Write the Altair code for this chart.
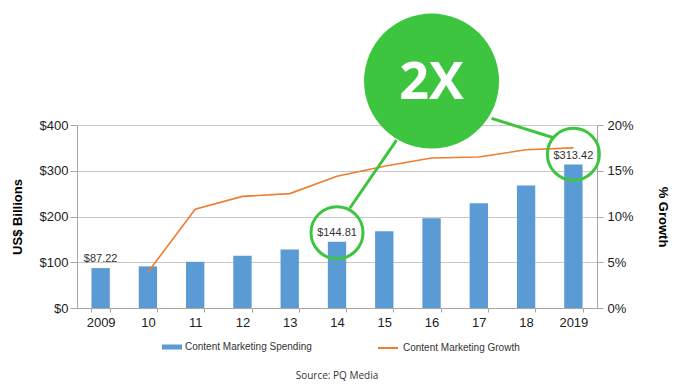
import altair as alt
import pandas as pd

# ---- data ----
years = ["2009", "10", "11", "12", "13", "14", "15", "16", "17", "18", "2019"]
spending = [87.22, 91, 101, 114, 128, 144.81, 168, 196, 229, 268, 313.42]
growth = [None, 3.9, 10.8, 12.2, 12.5, 14.4, 15.5, 16.4, 16.5, 17.3, 17.5]
value_labels = ["$87.22", "", "", "", "", "$144.81", "", "", "", "", "$313.42"]

# annotation anchors (category index units, US$ units)
big_circle_x = [7.5]
big_circle_y = [496]
big_text = ["2X"]
small_circle_x = [5.5, 10.5]
small_circle_y = [164.6, 336]
seg_x = [6.76, 8.77]
seg_y = [367, 414.6]
seg_x2 = [5.77, 10.08]
seg_y2 = [218, 372.2]

df = pd.DataFrame({"year": years, "spend": spending, "growth": growth, "label": value_labels})
big_df = pd.DataFrame({"x": big_circle_x, "y": big_circle_y, "t": big_text})
small_df = pd.DataFrame({"x": small_circle_x, "y": small_circle_y})
seg_df = pd.DataFrame({"x": seg_x, "y": seg_y, "x2": seg_x2, "y2": seg_y2})

BLUE = "#5B9BD5"
ORANGE = "#ED7D31"
GREEN = "#3DC53F"
AXISGRAY = "#A6A6A6"
FONT = "Liberation Sans"

band = alt.Scale(domain=years, paddingInner=0.612, paddingOuter=0.306)


def xband(axis=None):
    return alt.X("year:N", scale=band, sort=years, axis=axis, title=None)


ys = alt.Scale(domain=[0, 400], nice=False, zero=True)

bars = alt.Chart(df).transform_calculate(s="'Content Marketing Spending'").mark_bar(
    color=BLUE
).encode(
    x=xband(alt.Axis(
        labelAngle=0, tickBand="extent", tickSize=4, tickColor=AXISGRAY,
        domainColor=AXISGRAY, labelFont=FONT, labelFontSize=13, labelColor="#222",
        labelPadding=4, grid=False,
    )),
    y=alt.Y("spend:Q", scale=ys, title="US$ Billions", axis=alt.Axis(
        values=[0, 100, 200, 300, 400], labelExpr="'$' + datum.value",
        grid=True, gridColor="#C8C8C8", domainColor=AXISGRAY, tickColor=AXISGRAY,
        tickSize=7, labelPadding=2, labelFont=FONT, labelFontSize=13, labelColor="#222",
        titleFont=FONT, titleFontSize=13, titleFontWeight="bold", titleColor="#000",
        titlePadding=15,
    )),
    color=alt.Color("s:N", scale=alt.Scale(domain=["Content Marketing Spending"], range=[BLUE]),
                    legend=alt.Legend(
                        orient="none", legendX=85, legendY=212, title=None,
                        symbolType="M-1,-0.25H1V0.25H-1Z", symbolSize=400,
                        symbolStrokeWidth=0, symbolOpacity=1,
                        labelFont=FONT, labelFontSize=10, labelColor="#333",
                        labelOffset=3, padding=0)),
)

labels = alt.Chart(df).mark_text(
    baseline="middle", dy=-9, font=FONT, fontSize=11, color="#333"
).encode(
    x=xband(),
    y=alt.Y("spend:Q", scale=ys, axis=None),
    text="label:N",
)

line = alt.Chart(df).transform_filter("isValid(datum.growth)").transform_calculate(
    s="'Content Marketing Growth'"
).mark_line(strokeWidth=1.6).encode(
    x=xband(),
    y=alt.Y("growth:Q", scale=alt.Scale(domain=[0, 20], nice=False), title="% Growth",
            axis=alt.Axis(
                orient="right", values=[0, 5, 10, 15, 20], labelExpr="datum.value + '%'",
                grid=False, domainColor=AXISGRAY, tickColor=AXISGRAY, tickSize=6,
                labelPadding=4, labelFont=FONT, labelFontSize=13, labelColor="#222",
                titleFont=FONT, titleFontSize=13, titleFontWeight="bold", titleColor="#000",
                titlePadding=22,
            )),
    stroke=alt.Stroke("s:N", scale=alt.Scale(domain=["Content Marketing Growth"], range=[ORANGE]),
                      legend=alt.Legend(
                          orient="none", legendX=300, legendY=212, title=None,
                          symbolType="stroke", symbolSize=400, symbolStrokeWidth=2,
                          labelFont=FONT, labelFontSize=10, labelColor="#333",
                          labelOffset=4, padding=0)),
)

ax = alt.Scale(domain=[0, 11], nice=False, zero=False)

segs = alt.Chart(seg_df).mark_rule(color=GREEN, strokeWidth=3).encode(
    x=alt.X("x:Q", scale=ax, axis=None),
    y=alt.Y("y:Q", scale=ys, axis=None),
    x2="x2:Q",
    y2="y2:Q",
)

big = alt.Chart(big_df).mark_point(
    shape="circle", filled=True, size=18225, color=GREEN, opacity=1
).encode(
    x=alt.X("x:Q", scale=ax, axis=None),
    y=alt.Y("y:Q", scale=ys, axis=None),
)

big_txt = alt.Chart(big_df).mark_text(
    font="Open Sans", fontWeight="bold", fontSize=52, color="white",
    align="center", baseline="middle", dy=2,
).encode(
    x=alt.X("x:Q", scale=ax, axis=None),
    y=alt.Y("y:Q", scale=ys, axis=None),
    text="t:N",
)

small = alt.Chart(small_df).mark_point(
    shape="circle", filled=False, size=2704, color=GREEN, strokeWidth=3, opacity=1
).encode(
    x=alt.X("x:Q", scale=ax, axis=None),
    y=alt.Y("y:Q", scale=ys, axis=None),
)

chart = alt.layer(bars, labels, line, segs, big, big_txt, small).resolve_scale(
    x="independent", y="independent"
).properties(
    width=520,
    height=183,
    autosize=alt.AutoSizeParams(type="none"),
    padding={"left": 69, "top": 117, "right": 74, "bottom": 76},
    title=alt.TitleParams(
        "Source: PQ Media", orient="bottom", anchor="middle", font="Open Sans",
        fontSize=10, fontWeight="normal", color="#333", offset=18,
    ),
).configure_view(stroke=None).configure(background="white")

chart.save("out.html", embed_options={"renderer": "svg", "actions": False})
